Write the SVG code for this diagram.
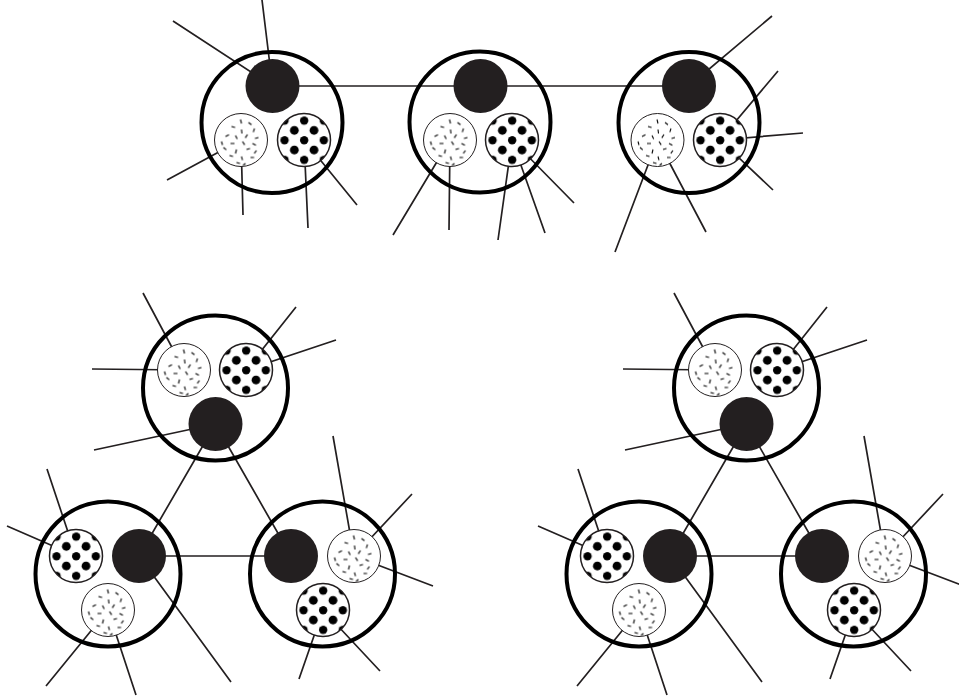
<svg xmlns="http://www.w3.org/2000/svg" width="959" height="700" viewBox="0 0 959 700">
<defs>
<pattern id="dots" patternUnits="objectBoundingBox" x="0.1296" y="0.1296" width="0.37037" height="0.37037" patternContentUnits="userSpaceOnUse">
<rect width="20" height="20" fill="#fff"/>
<g fill="#000"><circle cx="0" cy="0" r="4.4"/><circle cx="20" cy="0" r="4.4"/><circle cx="0" cy="20" r="4.4"/><circle cx="20" cy="20" r="4.4"/><circle cx="10" cy="10" r="4.4"/></g>
</pattern>
<pattern id="noise" patternUnits="objectBoundingBox" x="0" y="0" width="1" height="1" patternContentUnits="userSpaceOnUse">
<rect width="60" height="60" fill="#fff"/>
<path fill="none" stroke="#000" stroke-width="1.1" d="M26 6l1 4M34 9l3 2.2M17 13l3.6 1M40 15l-1.2 3.6M27 16l0.5 4M11 23l3.5 -1.7M21 22l1.7 3.4M33 21l-2.2 3.4M44 24l-3.5 1M16 30l4 0M28 28l2.2 3.4M38 30l3.4 1.7M9 34l2.8 2.3M22 36l-1 4M32 36l3.5 -1M42 37l-2.2 2.8M15 42l3.5 1M27 43l1 3.6M36 44l3.6 0M22 49l3.5 1M31 50l-2.4 1.7M7 28l1 3.5"/>
</pattern>
<style>
.ln{fill:none;stroke:#231f20;stroke-width:1.7}
.jacket{fill:none;stroke:#000;stroke-width:4}
.core{fill:#231f20}
.nz{fill:url(#noise);stroke:#231f20;stroke-width:1}
.dt{fill:url(#dots);stroke:#231f20;stroke-width:1.5}
</style>
</defs>
<rect width="959" height="700" fill="#fff"/>
<g id="connectors" class="ln">
<path d="M272.5 86H689"/>
<path d="M272.5 86L173 21M272.5 86L262 0M241 140L167 180M241 140L243 215M304 140L308 228M304 140L357 205"/>
<path d="M450 140L393 235M450 140L449 230M512 140L498 240M512 140L545 233M512 140L574 203"/>
<path d="M689 86L772 16M720 140L778 71M720 140L803 133M720 140L773 190M657.5 140L615 252M657.5 140L706 232"/>
<g id="cluster-left-lines">
<path d="M215.5 424L139 556L291 556Z"/>
<path d="M184 370L143 293M184 370L92 369M246 370L296 307M246 370L336 340M215.5 424L94 450M76 556L47 469M76 556L7 526M139 556L231 682M108 610L46 686M108 610L136 695M354 556L333 436M354 556L412 494M354 556L433 586M323 610L299 679M323 610L380 671"/>
</g>
<g transform="translate(531,0)">
<path d="M215.5 424L139 556L291 556Z"/>
<path d="M184 370L143 293M184 370L92 369M246 370L296 307M246 370L336 340M215.5 424L94 450M76 556L47 469M76 556L7 526M139 556L231 682M108 610L46 686M108 610L136 695M354 556L333 436M354 556L412 494M354 556L433 586M323 610L299 679M323 610L380 671"/>
</g>
</g>
<g id="cable-top-1">
<circle class="jacket" cx="272" cy="122.5" r="70.5"/>
<circle class="core" cx="272.5" cy="86" r="27"/>
<circle class="nz" cx="241" cy="140" r="26.5"/>
<circle class="dt" cx="304" cy="140" r="26.5"/>
</g>
<g id="cable-top-2">
<circle class="jacket" cx="480" cy="122" r="70.5"/>
<circle class="core" cx="480.5" cy="86" r="27"/>
<circle class="nz" cx="450" cy="140" r="26.5"/>
<circle class="dt" cx="512" cy="140" r="26.5"/>
</g>
<g id="cable-top-3">
<circle class="jacket" cx="689" cy="122.5" r="70.5"/>
<circle class="core" cx="689" cy="86" r="27"/>
<circle class="nz" cx="657.5" cy="140" r="26.5"/>
<circle class="dt" cx="720" cy="140" r="26.5"/>
</g>
<g id="cable-left-top">
<circle class="jacket" cx="215.5" cy="388" r="72.5"/>
<circle class="nz" cx="184" cy="370" r="26.5"/>
<circle class="dt" cx="246" cy="370" r="26.5"/>
<circle class="core" cx="215.5" cy="424" r="27"/>
</g>
<g id="cable-left-left">
<circle class="jacket" cx="108" cy="574" r="72.5"/>
<circle class="dt" cx="76" cy="556" r="26.5"/>
<circle class="core" cx="139" cy="556" r="27"/>
<circle class="nz" cx="108" cy="610" r="26.5"/>
</g>
<g id="cable-left-right">
<circle class="jacket" cx="322.5" cy="574" r="72.5"/>
<circle class="core" cx="291" cy="556" r="27"/>
<circle class="nz" cx="354" cy="556" r="26.5"/>
<circle class="dt" cx="323" cy="610" r="26.5"/>
</g>
<g id="cable-right-top" transform="translate(531,0)">
<circle class="jacket" cx="215.5" cy="388" r="72.5"/>
<circle class="nz" cx="184" cy="370" r="26.5"/>
<circle class="dt" cx="246" cy="370" r="26.5"/>
<circle class="core" cx="215.5" cy="424" r="27"/>
</g>
<g id="cable-right-left" transform="translate(531,0)">
<circle class="jacket" cx="108" cy="574" r="72.5"/>
<circle class="dt" cx="76" cy="556" r="26.5"/>
<circle class="core" cx="139" cy="556" r="27"/>
<circle class="nz" cx="108" cy="610" r="26.5"/>
</g>
<g id="cable-right-right" transform="translate(531,0)">
<circle class="jacket" cx="322.5" cy="574" r="72.5"/>
<circle class="core" cx="291" cy="556" r="27"/>
<circle class="nz" cx="354" cy="556" r="26.5"/>
<circle class="dt" cx="323" cy="610" r="26.5"/>
</g>
</svg>
